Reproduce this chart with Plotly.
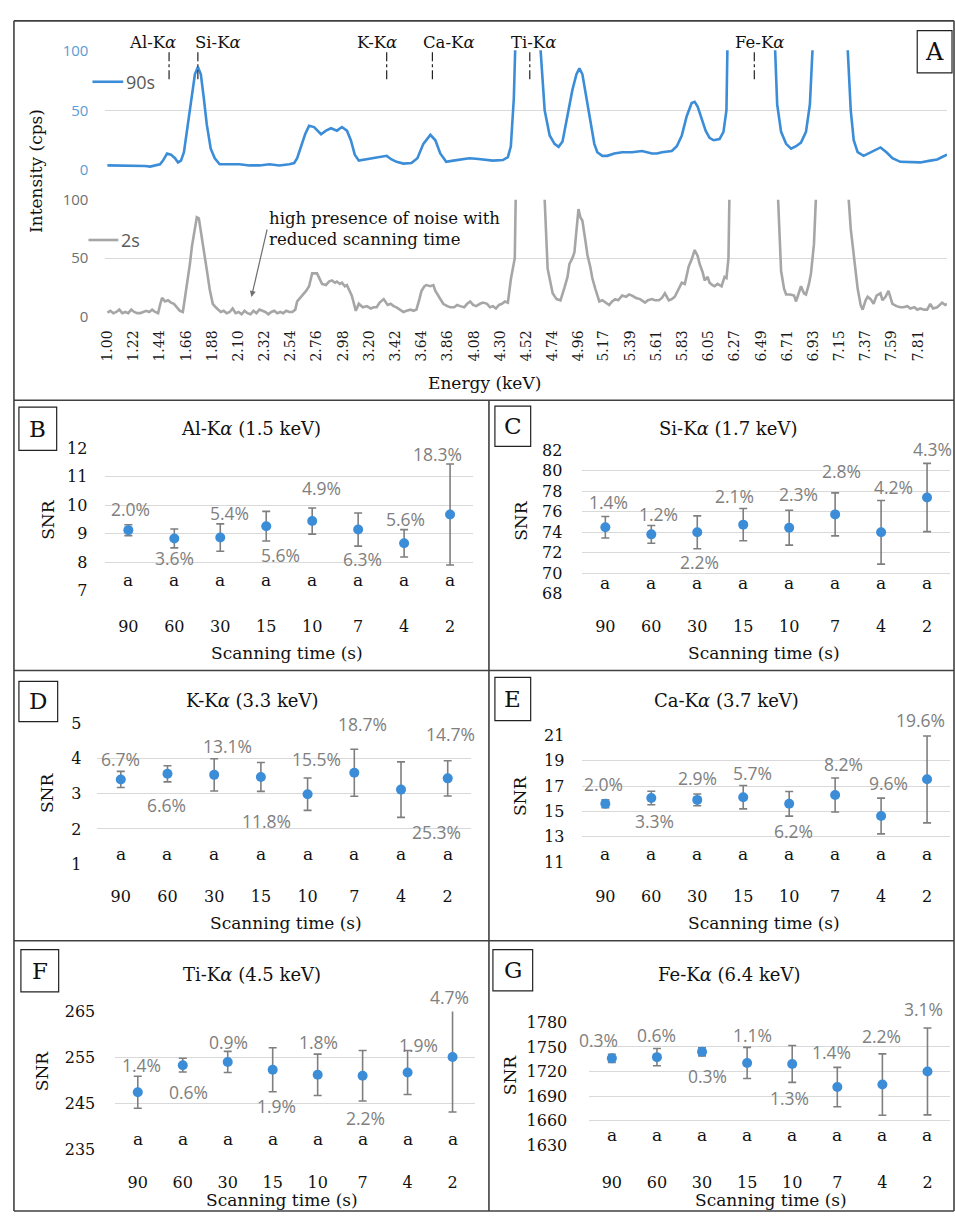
import plotly.graph_objects as go

W, H = 955, 1223
SERIF = "DejaVu Serif"
SANS = "Open Sans"
BLUE = "#3C8DD8"
GRAY_LINE = "#A6A6A6"
GRID = "#D9D9D9"
PCT_GRAY = "#808080"
BORDER = "#404040"

# ------------------------------------------------------------------ Panel A data
energy_ticks = [1.00, 1.22, 1.44, 1.66, 1.88, 2.10, 2.32, 2.54, 2.76, 2.98, 3.20, 3.42,
                3.64, 3.86, 4.08, 4.30, 4.52, 4.74, 4.96, 5.17, 5.39, 5.61, 5.83, 6.05,
                6.27, 6.49, 6.71, 6.93, 7.15, 7.37, 7.59, 7.81]
energy_labels = [f"{v:.2f}" for v in energy_ticks]

# 90 s spectrum (keV, cps)
e90 = [1.000, 1.067, 1.150, 1.234, 1.317, 1.359, 1.401, 1.442, 1.467, 1.501, 1.534, 1.568,
       1.593, 1.618, 1.643, 1.676, 1.710, 1.735, 1.760, 1.785, 1.810, 1.835, 1.868, 1.902,
       1.943, 2.027, 2.110, 2.194, 2.277, 2.361, 2.444, 2.528, 2.569, 2.594, 2.628, 2.661,
       2.694, 2.736, 2.795, 2.836, 2.878, 2.928, 2.970, 3.012, 3.045, 3.078, 3.112, 3.170,
       3.237, 3.296, 3.346, 3.387, 3.429, 3.487, 3.554, 3.604, 3.654, 3.713, 3.755, 3.796,
       3.846, 3.905, 3.972, 4.039, 4.097, 4.155, 4.239, 4.322, 4.364, 4.389, 4.414, 4.431,
       4.439, 4.481, 4.522, 4.564, 4.606, 4.631, 4.639, 4.673, 4.715, 4.756, 4.790, 4.823,
       4.865, 4.906, 4.940, 4.965, 4.990, 5.023, 5.057, 5.090, 5.115, 5.157, 5.199, 5.257,
       5.324, 5.407, 5.491, 5.574, 5.616, 5.658, 5.741, 5.783, 5.825, 5.866, 5.908, 5.933,
       5.958, 5.992, 6.025, 6.058, 6.092, 6.142, 6.175, 6.200, 6.217, 6.234, 6.284, 6.367,
       6.426, 6.493, 6.559, 6.593, 6.609, 6.626, 6.659, 6.701, 6.743, 6.785, 6.826, 6.868,
       6.901, 6.927, 6.943, 6.993, 7.077, 7.160, 7.202, 7.219, 7.244, 7.269, 7.302, 7.352,
       7.394, 7.444, 7.494, 7.544, 7.594, 7.661, 7.745, 7.828, 7.912, 7.970, 8.012, 8.053]
i90 = [4, 4, 3.5, 4, 3.5, 3, 4, 5, 8, 14, 13, 10,
       6.5, 8, 15, 40, 65, 80, 86, 80, 60, 38, 18, 10,
       5, 5, 5, 4, 4, 5, 4, 5, 6, 10, 20, 30,
       37, 36, 30, 33, 35, 33, 36, 33, 25, 13, 8, 9,
       10, 11, 12, 9, 7, 5.5, 6, 10, 22, 29.5, 25, 14,
       7, 8, 9, 10, 9.5, 9, 8, 8.5, 11, 20, 60, 120,
       150, 280, 320, 260, 150, 105, 100, 50, 29, 22, 19.5, 24,
       45, 67, 80, 85, 80, 60, 40, 22, 15, 12, 12, 14,
       15, 15, 16, 14, 14, 15, 16, 20, 29, 45, 56, 57,
       53, 42, 33, 27, 25, 26, 32, 50, 90, 150, 500, 1200,
       1500, 1000, 300, 130, 100, 55, 32, 22, 18, 20, 23, 32,
       55, 90, 130, 300, 420, 250, 130, 100, 50, 25, 15, 12,
       14, 17, 19, 15, 10, 7, 7, 6.5, 8, 9, 11, 13]

# 2 s spectrum (keV, cps)
e2 = [1.000, 1.025, 1.050, 1.075, 1.100, 1.125, 1.150, 1.175, 1.200, 1.225, 1.250, 1.275,
      1.301, 1.326, 1.351, 1.376, 1.401, 1.426, 1.442, 1.459, 1.484, 1.509, 1.534, 1.559,
      1.584, 1.609, 1.634, 1.668, 1.693, 1.710, 1.735, 1.751, 1.768, 1.785, 1.801, 1.818,
      1.835, 1.860, 1.885, 1.910, 1.927, 1.952, 1.977, 2.002, 2.027, 2.052, 2.077, 2.102,
      2.127, 2.152, 2.177, 2.202, 2.227, 2.252, 2.277, 2.302, 2.327, 2.352, 2.377, 2.402,
      2.427, 2.452, 2.477, 2.503, 2.528, 2.553, 2.578, 2.594, 2.619, 2.636, 2.669, 2.694,
      2.720, 2.761, 2.803, 2.836, 2.861, 2.886, 2.912, 2.928, 2.953, 2.970, 2.995, 3.012,
      3.037, 3.053, 3.087, 3.112, 3.145, 3.179, 3.212, 3.237, 3.262, 3.287, 3.321, 3.354,
      3.379, 3.404, 3.429, 3.454, 3.487, 3.513, 3.546, 3.571, 3.596, 3.621, 3.638, 3.663,
      3.679, 3.713, 3.738, 3.755, 3.780, 3.805, 3.821, 3.855, 3.880, 3.913, 3.938, 3.963,
      3.997, 4.022, 4.047, 4.072, 4.097, 4.130, 4.155, 4.189, 4.214, 4.239, 4.264, 4.289,
      4.314, 4.339, 4.364, 4.389, 4.422, 4.431, 4.472, 4.531, 4.589, 4.639, 4.664, 4.673,
      4.698, 4.740, 4.773, 4.806, 4.840, 4.865, 4.881, 4.906, 4.923, 4.940, 4.957, 4.973,
      4.990, 5.015, 5.032, 5.057, 5.073, 5.098, 5.132, 5.157, 5.182, 5.215, 5.240, 5.265,
      5.290, 5.324, 5.357, 5.382, 5.407, 5.441, 5.474, 5.516, 5.541, 5.574, 5.599, 5.633,
      5.658, 5.683, 5.716, 5.741, 5.766, 5.791, 5.825, 5.850, 5.883, 5.908, 5.933, 5.958,
      5.975, 6.000, 6.017, 6.042, 6.058, 6.083, 6.100, 6.125, 6.159, 6.184, 6.200, 6.217,
      6.234, 6.284, 6.367, 6.426, 6.493, 6.559, 6.609, 6.634, 6.659, 6.684, 6.701, 6.735,
      6.768, 6.785, 6.810, 6.826, 6.851, 6.868, 6.893, 6.910, 6.935, 6.960, 7.010, 7.077,
      7.160, 7.202, 7.227, 7.244, 7.269, 7.302, 7.327, 7.344, 7.369, 7.386, 7.411, 7.436,
      7.461, 7.494, 7.511, 7.536, 7.561, 7.578, 7.594, 7.628, 7.661, 7.686, 7.720, 7.745,
      7.778, 7.803, 7.828, 7.860, 7.886, 7.912, 7.935, 7.970, 7.995, 8.012, 8.037, 8.053]
i2 = [3.5, 5, 3, 4, 6, 3, 4, 3, 6, 4, 3, 3,
      4, 5, 4, 6, 4, 3, 10, 16, 13, 14, 12, 11,
      8, 5, 4, 26, 45, 60, 78, 85, 84, 72, 60, 50,
      40, 23, 11, 8, 6, 4, 5, 3, 4, 7, 3, 4,
      2, 5, 3, 2, 5, 3, 6, 5, 4, 2, 4, 5,
      3, 4, 3, 5, 4, 4, 6, 13, 16, 18, 22, 26,
      37, 37, 28, 27, 30, 31, 29, 30, 28, 29, 26, 27,
      22, 18, 5, 11, 8, 9, 7, 8, 8, 12, 15, 10,
      11, 9, 8, 6, 4, 5, 6, 5, 6, 15, 22, 26,
      27, 26, 27, 22, 18, 14, 11, 9, 8, 8, 10, 9,
      8, 11, 13, 10, 9, 11, 12, 11, 8, 9, 7, 10,
      11, 13, 12, 32, 50, 110, 300, 330, 240, 160, 110, 100,
      41, 20, 15, 14, 25, 34, 45, 50, 55, 75, 92, 85,
      82, 65, 53, 42, 33, 24, 13, 14, 12, 10, 13, 15,
      14, 18, 17, 19, 18, 16, 15, 12, 14, 15, 14, 14,
      16, 20, 14, 15, 17, 22, 29, 28, 43, 49, 57, 52,
      45, 38, 31, 34, 29, 27, 26, 28, 26, 34, 33, 50,
      110, 600, 1300, 1450, 1000, 350, 150, 100, 39, 24, 19, 19,
      18, 13, 22, 26, 20, 19, 28, 37, 62, 105, 320, 400,
      260, 150, 100, 75, 52, 24, 10, 6, 14, 17, 15, 11,
      18, 20, 14, 17, 22, 15, 11, 9, 8, 8, 9, 7,
      8, 6, 7, 6, 6, 11, 7, 8, 10, 12, 10, 11]

# element marker lines (keV) and their labels
line_names = ["Al-K<i>α</i>", "Si-K<i>α</i>", "K-K<i>α</i>", "Ca-K<i>α</i>", "Ti-K<i>α</i>", "Fe-K<i>α</i>"]
line_energy = [1.518, 1.760, 3.346, 3.730, 4.548, 6.434]
label_energy = [1.376, 1.927, 3.262, 3.871, 4.581, 6.476]

# ------------------------------------------------------------------ SNR panels data
times = ["90", "60", "30", "15", "10", "7", "4", "2"]
letters = ["a"] * 8

snr_B = [9.13, 8.84, 8.87, 9.27, 9.45, 9.15, 8.67, 9.68]
err_B = [0.19, 0.33, 0.48, 0.52, 0.46, 0.58, 0.48, 1.77]
cv_B = [2.0, 3.6, 5.4, 5.6, 4.9, 6.3, 5.6, 18.3]

snr_C = [74.5, 73.8, 74.0, 74.75, 74.45, 75.75, 74.0, 77.4]
err_C = [1.05, 0.87, 1.6, 1.57, 1.7, 2.1, 3.1, 3.33]
cv_C = [1.4, 1.2, 2.2, 2.1, 2.3, 2.8, 4.2, 4.3]

snr_D = [3.41, 3.57, 3.54, 3.48, 2.99, 3.60, 3.12, 3.44]
err_D = [0.23, 0.23, 0.46, 0.41, 0.46, 0.67, 0.79, 0.50]
cv_D = [6.7, 6.6, 13.1, 11.8, 15.5, 18.7, 25.3, 14.7]

snr_E = [15.6, 16.06, 15.91, 16.12, 15.6, 16.3, 14.64, 17.53]
err_E = [0.31, 0.53, 0.46, 0.92, 0.97, 1.34, 1.41, 3.43]
cv_E = [2.0, 3.3, 2.9, 5.7, 6.2, 8.2, 9.6, 19.6]

snr_F = [247.4, 253.3, 254.0, 252.3, 251.2, 251.0, 251.7, 255.1]
err_F = [3.5, 1.5, 2.3, 4.8, 4.5, 5.5, 4.8, 12.0]
cv_F = [1.4, 0.6, 0.9, 1.9, 1.8, 2.2, 1.9, 4.7]

snr_G = [1736.0, 1737.5, 1744.0, 1730.4, 1729.2, 1701.0, 1704.0, 1720.0]
err_G = [5.0, 10.5, 5.0, 19.0, 22.5, 24.0, 37.5, 53.0]
cv_G = [0.3, 0.6, 0.3, 1.1, 1.3, 1.4, 2.2, 3.1]

panel_titles = ["Al-K<i>α</i> (1.5 keV)", "Si-K<i>α</i> (1.7 keV)", "K-K<i>α</i> (3.3 keV)",
                "Ca-K<i>α</i> (3.7 keV)", "Ti-K<i>α</i> (4.5 keV)", "Fe-K<i>α</i> (6.4 keV)"]
panel_letters = ["B", "C", "D", "E", "F", "G"]
y_ranges = [(7, 12, 1), (68, 82, 2), (1, 5, 1), (11, 21, 2), (235, 265, 10), (1630, 1780, 30)]

# ------------------------------------------------------------------ layout helpers (pixels)
def X(p):
    return p / W


def Y(p):
    return 1 - p / H


geom = [
    dict(x0=100, x1=470, yt=445, yb=590, tx=247, ty=425, box=(13, 403, 51, 447), ys=17,
         snr=(42, 517), xs=24, ay=579, st=(283, 653)),
    dict(x0=580, x1=950, yt=447, yb=593, tx=727, ty=425, box=(492, 402, 528, 443), ys=19,
         snr=(518, 518), xs=21, ay=582, st=(763, 653)),
    dict(x0=92, x1=468, yt=725, yb=868, tx=248, ty=702, box=(13, 682, 52, 723), ys=15,
         snr=(42, 795), xs=21, ay=858, st=(282, 928)),
    dict(x0=580, x1=950, yt=737, yb=866, tx=725, ty=702, box=(492, 678, 528, 722), ys=17,
         snr=(518, 798), xs=23, ay=858, st=(763, 928)),
    dict(x0=110, x1=472, yt=1018, yb=1158, tx=248, ty=980, box=(15, 955, 53, 998), ys=19,
         snr=(37, 1078), xs=22, ay=1148, st=(278, 1210)),
    dict(x0=587, x1=950, yt=1029, yb=1154, tx=728, ty=980, box=(490, 955, 530, 997), ys=21,
         snr=(508, 1082), xs=26, ay=1144, st=(770, 1210)),
]

label_offsets = [
    [(2, -21), (0, 20), (9, -25), (14, 29), (9, -33), (4, 29), (1, -24), (-13, -60)],
    [(3, -25), (7, -20), (2, 30), (-9, -29), (9, -34), (6, -43), (12, -45), (5, -48)],
    [(0, -20), (-1, 31), (13, -29), (6, 44), (9, -35), (8, -49), (35, 42), (3, -44)],
    [(-2, -20), (3, 23), (0, -22), (9, -24), (4, 27), (8, -31), (7, -33), (-7, -59)],
    [(4, -27), (6, 27), (1, -20), (4, 36), (1, -33), (3, 42), (11, -28), (-3, -60)],
    [(-13, -18), (0, -22), (5, 24), (5, -28), (-3, 34), (-6, -35), (-1, -49), (-4, -62)],
]

snr_data = [(snr_B, err_B, cv_B), (snr_C, err_C, cv_C), (snr_D, err_D, cv_D),
            (snr_E, err_E, cv_E), (snr_F, err_F, cv_F), (snr_G, err_G, cv_G)]

cat_pos = list(range(len(times)))

fig = go.Figure()
layout = dict(width=W, height=H, margin=dict(l=0, r=0, t=0, b=0), paper_bgcolor="white",
              plot_bgcolor="rgba(0,0,0,0)", showlegend=False)
annotations = []
shapes = []

# ------------------------------------------------------------------ Panel A
xdomA = [X(100), X(947)]
xrangeA = [0.983, 8.053]
layout["xaxis"] = dict(domain=xdomA, range=xrangeA, anchor="y", showticklabels=False,
                       showgrid=False, zeroline=False, showline=False, ticks="")
layout["yaxis"] = dict(domain=[Y(162), Y(40)], range=[0, 100], anchor="x", tickvals=[0, 50, 100],
                       showgrid=True, gridcolor=GRID, gridwidth=1, zeroline=False, showline=False,
                       ticks="", tickfont=dict(family=SANS, size=15, color="#5B9BD5"),
                       ticklabelstandoff=16)
layout["xaxis2"] = dict(domain=xdomA, range=xrangeA, anchor="y2", tickvals=energy_ticks,
                        ticktext=energy_labels, tickangle=-90,
                        tickfont=dict(family=SERIF, size=14, color="#1a1a1a"),
                        ticklabelstandoff=10, showgrid=False, zeroline=False, showline=False,
                        ticks="")
layout["yaxis2"] = dict(domain=[Y(311), Y(192)], range=[0, 100], anchor="x2", tickvals=[0, 50, 100],
                        showgrid=True, gridcolor=GRID, gridwidth=1, zeroline=False, showline=False,
                        ticks="", tickfont=dict(family=SANS, size=15, color="#6F6F6F"),
                        ticklabelstandoff=16)

fig.add_trace(go.Scatter(x=e90, y=i90, mode="lines", line=dict(color=BLUE, width=2.6),
                         xaxis="x", yaxis="y", hoverinfo="skip"))
fig.add_trace(go.Scatter(x=e2, y=i2, mode="lines", line=dict(color=GRAY_LINE, width=2.6),
                         xaxis="x2", yaxis="y2", hoverinfo="skip"))

for name, le, lx in zip(line_names, line_energy, label_energy):
    shapes.append(dict(type="line", xref="x", yref="paper", x0=le, x1=le, y0=Y(42), y1=Y(72),
                       line=dict(color="#222222", width=1.2, dash="dashdot")))
    annotations.append(dict(text=name, xref="x", yref="paper", x=lx, y=Y(32), showarrow=False,
                            font=dict(family=SERIF, size=16.5, color="#111111"),
                            xanchor="center", yanchor="middle"))

shapes.append(dict(type="line", xref="paper", yref="paper", x0=X(87), x1=X(118), y0=Y(72),
                   y1=Y(72), line=dict(color=BLUE, width=2.6)))
annotations.append(dict(text="90s", xref="paper", yref="paper", x=X(119), y=Y(72), showarrow=False,
                        xanchor="left", yanchor="middle",
                        font=dict(family=SANS, size=18, color="#595959")))
shapes.append(dict(type="line", xref="paper", yref="paper", x0=X(83), x1=X(113), y0=Y(233),
                   y1=Y(233), line=dict(color=GRAY_LINE, width=2.6)))
annotations.append(dict(text="2s", xref="paper", yref="paper", x=X(114), y=Y(233), showarrow=False,
                        xanchor="left", yanchor="middle",
                        font=dict(family=SANS, size=18, color="#595959")))

annotations.append(dict(text="high presence of noise with<br>reduced scanning time", xref="paper",
                        yref="paper", x=X(263), y=Y(221.5), showarrow=False, xanchor="left",
                        yanchor="middle", align="left",
                        font=dict(family=SERIF, size=16.5, color="#111111")))
annotations.append(dict(text="", xref="paper", yref="paper", x=X(247), y=Y(291), ax=16, ay=-69,
                        showarrow=True, arrowhead=2, arrowsize=1, arrowwidth=1.2,
                        arrowcolor="#6F6F6F"))

annotations.append(dict(text="Intensity (cps)", xref="paper", yref="paper", x=X(30), y=Y(163),
                        textangle=-90, showarrow=False, xanchor="center", yanchor="middle",
                        font=dict(family=SERIF, size=17, color="#111111")))
annotations.append(dict(text="Energy (keV)", xref="paper", yref="paper", x=X(482), y=Y(378),
                        showarrow=False, xanchor="center", yanchor="middle",
                        font=dict(family=SERIF, size=17, color="#111111")))
shapes.append(dict(type="rect", xref="paper", yref="paper", x0=X(917), x1=X(952), y0=Y(63),
                   y1=Y(20), line=dict(color="#222222", width=1.2), fillcolor="white"))
annotations.append(dict(text="A", xref="paper", yref="paper", x=X(934.5), y=Y(41.5),
                        showarrow=False, xanchor="center", yanchor="middle",
                        font=dict(family=SERIF, size=24, color="#111111")))

# ------------------------------------------------------------------ SNR panels
for k, (g, (vals, errs, cvs)) in enumerate(zip(geom, snr_data)):
    n = k + 3
    xa, ya = f"x{n}", f"y{n}"
    lo, hi, dt = y_ranges[k]
    layout[f"xaxis{n}"] = dict(domain=[X(g["x0"]), X(g["x1"])], anchor=ya,
                               range=[-0.5, len(times) - 0.5], tickvals=cat_pos, ticktext=times,
                               showgrid=False, zeroline=False, showline=False,
                               ticks="", tickfont=dict(family=SERIF, size=16, color="#111111"),
                               ticklabelstandoff=g["xs"])
    layout[f"yaxis{n}"] = dict(domain=[Y(g["yb"]), Y(g["yt"])], anchor=xa, range=[lo, hi],
                               dtick=dt, tick0=lo, showgrid=True, gridcolor=GRID, gridwidth=1,
                               zeroline=False, showline=False, ticks="",
                               tickfont=dict(family=SERIF, size=16, color="#111111"),
                               ticklabelstandoff=g["ys"])
    fig.add_trace(go.Scatter(x=cat_pos, y=vals, mode="markers", xaxis=xa, yaxis=ya,
                             marker=dict(color=BLUE, size=10),
                             error_y=dict(type="data", array=errs, color="#7F7F7F",
                                          thickness=1.6, width=4),
                             hoverinfo="skip"))
    for i, v, c, (dx, dy) in zip(cat_pos, vals, cvs, label_offsets[k]):
        annotations.append(dict(text=f"{c:.1f}%", xref=xa, yref=ya, x=i, y=v, xshift=dx,
                                yshift=-dy, showarrow=False, xanchor="center", yanchor="middle",
                                font=dict(family=SANS, size=17.5, color=PCT_GRAY)))
    for i, lt in zip(cat_pos, letters):
        annotations.append(dict(text=lt, xref=xa, yref="paper", x=i, y=Y(g["ay"]),
                                showarrow=False, xanchor="center", yanchor="middle",
                                font=dict(family=SERIF, size=17, color="#111111")))
    annotations.append(dict(text=panel_titles[k], xref="paper", yref="paper", x=X(g["tx"]),
                            y=Y(g["ty"]), showarrow=False, xanchor="center", yanchor="middle",
                            font=dict(family=SERIF, size=18, color="#111111")))
    annotations.append(dict(text="SNR", xref="paper", yref="paper", x=X(g["snr"][0]),
                            y=Y(g["snr"][1]), textangle=-90, showarrow=False,
                            xanchor="center", yanchor="middle",
                            font=dict(family=SERIF, size=17, color="#111111")))
    annotations.append(dict(text="Scanning time (s)", xref="paper", yref="paper",
                            x=X(g["st"][0]), y=Y(g["st"][1]), showarrow=False,
                            xanchor="center", yanchor="middle",
                            font=dict(family=SERIF, size=17, color="#111111")))
    bx0, by0, bx1, by1 = g["box"]
    shapes.append(dict(type="rect", xref="paper", yref="paper", x0=X(bx0), x1=X(bx1), y0=Y(by1),
                       y1=Y(by0), line=dict(color="#222222", width=1.2), fillcolor="white"))
    annotations.append(dict(text=panel_letters[k], xref="paper", yref="paper",
                            x=X((bx0 + bx1) / 2), y=Y((by0 + by1) / 2), showarrow=False,
                            xanchor="center", yanchor="middle",
                            font=dict(family=SERIF, size=23, color="#111111")))

# ------------------------------------------------------------------ panel borders
def hline(y, x0, x1):
    shapes.append(dict(type="line", xref="paper", yref="paper", x0=X(x0), x1=X(x1), y0=Y(y), y1=Y(y),
                       line=dict(color=BORDER, width=1.6)))


def vline(x, y0, y1):
    shapes.append(dict(type="line", xref="paper", yref="paper", x0=X(x), x1=X(x), y0=Y(y0), y1=Y(y1),
                       line=dict(color=BORDER, width=1.6)))


hline(10, 8, 954)
hline(396, 8, 954)
hline(671, 8, 954)
hline(946, 8, 954)
hline(1221, 8, 954)
vline(8, 10, 1221)
vline(954, 10, 1221)
vline(486, 396, 1221)

layout["annotations"] = annotations
layout["shapes"] = shapes
fig.update_layout(**layout)
fig.write_html("out.html")
